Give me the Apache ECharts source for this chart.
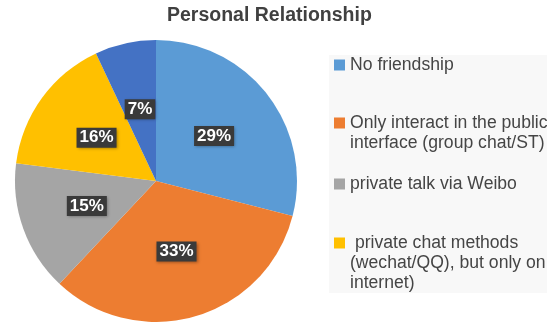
<!DOCTYPE html>
<html>
<head>
<meta charset="utf-8">
<script src="https://cdn.jsdelivr.net/npm/echarts@6/dist/echarts.min.js"></script>
<style>
  html, body { margin: 0; padding: 0; background: #ffffff; }
  #chart { width: 547px; height: 322px; }
</style>
</head>
<body>
<div id="chart"></div>
<script>
// Survey answers, in the order they run clockwise from twelve o'clock
const categories = [
  'No friendship',
  'Only interact in the public\ninterface (group chat/ST)',
  'private talk via Weibo',
  ' private chat methods\n(wechat/QQ), but only on\ninternet)',
  'offline friendship'
];
const shares = [29, 33, 15, 16, 7];
const sliceColors = ['#5B9BD5', '#ED7D31', '#A5A5A5', '#FFC000', '#4472C4'];
// Only the first four answers appear in the key
const keyCount = 4;
const keyTops = [55, 93, 174, 193];

const FONT = '"Liberation Sans", Arial, Helvetica, sans-serif';
const LINE_H = 20;

const chart = echarts.init(document.getElementById('chart'), null, { renderer: 'canvas' });

const pieData = categories.map((name, i) => ({
  name: name,
  value: shares[i],
  itemStyle: { color: sliceColors[i] }
}));

// One key block per answer so that each can sit at its own height.
// Key text is centred on its swatch, so wrapped names get blank lines
// on top to keep the swatch level with their first line.
const legends = categories.slice(0, keyCount).map((name, i) => {
  const lines = name.split('\n').length;
  const lead = '\n'.repeat(lines - 1);
  return {
    data: [name],
    orient: 'vertical',
    left: 334,
    top: keyTops[i],
    padding: 0,
    itemWidth: 11,
    itemHeight: 11,
    itemGap: 0,
    icon: 'rect',
    selectedMode: false,
    formatter: (n) => lead + n,
    textStyle: {
      fontFamily: FONT,
      fontSize: 17.6,
      color: '#454545',
      lineHeight: LINE_H
    }
  };
});

chart.setOption({
  backgroundColor: '#ffffff',
  animation: false,
  title: {
    text: 'Personal Relationship',
    left: 167,
    top: 6,
    padding: 0,
    textStyle: {
      fontFamily: FONT,
      fontSize: 19.5,
      fontWeight: 'bold',
      color: '#404040'
    }
  },
  graphic: [{
    type: 'rect',
    z: -10,
    silent: true,
    shape: { x: 329, y: 55, width: 218, height: 238 },
    style: { fill: '#f8f8f8' }
  }],
  legend: legends,
  series: [{
    type: 'pie',
    center: [156, 181],
    radius: [0, 141],
    startAngle: 90,
    clockwise: true,
    avoidLabelOverlap: false,
    silent: true,
    data: pieData,
    itemStyle: { borderWidth: 0 },
    label: {
      show: true,
      position: 'inside',
      formatter: (p) => p.value + '%',
      fontFamily: FONT,
      fontSize: 17,
      fontWeight: 'bold',
      color: '#ffffff',
      backgroundColor: '#3a3a3a',
      lineHeight: 17,
      padding: [2, 3, 1, 3],
      shadowColor: 'rgba(0,0,0,0.35)',
      shadowBlur: 3,
      shadowOffsetX: 1,
      shadowOffsetY: 1
    },
    labelLine: { show: false }
  }]
});
</script>
</body>
</html>
